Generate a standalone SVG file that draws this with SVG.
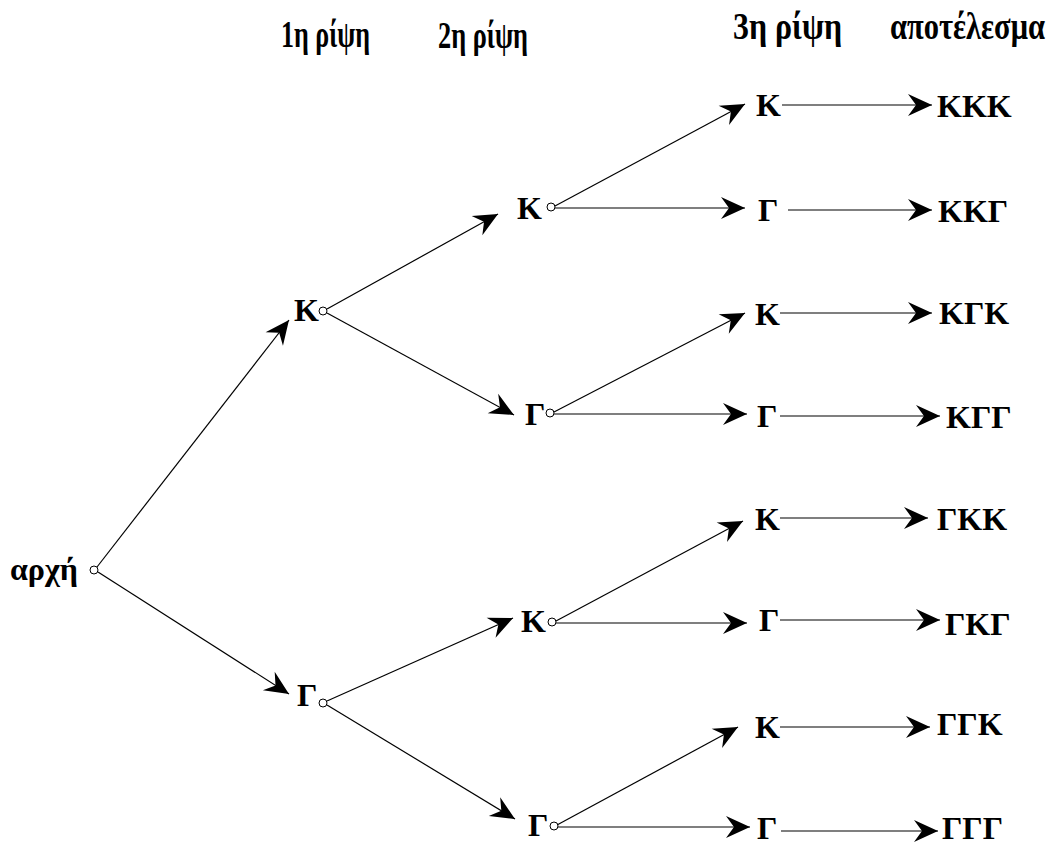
<svg xmlns="http://www.w3.org/2000/svg" width="1050" height="842" viewBox="0 0 1050 842">
<style>
text{font-family:"Liberation Serif","Times New Roman","DejaVu Serif",serif;font-weight:bold;fill:#000}
.n{font-size:32px}
.h{font-size:37px}
.c{stroke:#000;stroke-width:1.2;fill:none;marker-end:url(#ah)}
.d{fill:#fff;stroke:#000;stroke-width:1}
</style>
<defs>
<marker id="ah" markerUnits="userSpaceOnUse" markerWidth="26" markerHeight="26" viewBox="-25 -13 26 26" refX="0" refY="0" orient="auto">
<path d="M0,0 L-24,-11 L-16,0 L-24,11 Z" fill="#000"/>
</marker>
</defs>
<rect width="1050" height="842" fill="#fff"/>
<g id="headers">
<text class="h" x="281" y="47" textLength="89" lengthAdjust="spacingAndGlyphs">1η ρίψη</text>
<text class="h" x="438" y="48" textLength="90" lengthAdjust="spacingAndGlyphs">2η ρίψη</text>
<text class="h" x="733" y="39" textLength="109" lengthAdjust="spacingAndGlyphs">3η ρίψη</text>
<text class="h" x="890" y="39" textLength="155" lengthAdjust="spacingAndGlyphs">αποτέλεσμα</text>
</g>
<g id="connectors">
<line class="c" x1="97" y1="567" x2="289" y2="320"/>
<line class="c" x1="98" y1="572" x2="289" y2="694"/>
<line class="c" x1="327" y1="309" x2="498" y2="214"/>
<line class="c" x1="327" y1="313" x2="514" y2="415"/>
<line class="c" x1="327" y1="701" x2="513" y2="618"/>
<line class="c" x1="327" y1="705" x2="515" y2="819"/>
<line class="c" x1="555" y1="206" x2="745" y2="104"/>
<line class="c" x1="555" y1="208" x2="745" y2="208"/>
<line class="c" x1="554" y1="412" x2="745" y2="313"/>
<line class="c" x1="554" y1="414" x2="747" y2="414"/>
<line class="c" x1="556" y1="621" x2="743" y2="521"/>
<line class="c" x1="556" y1="623" x2="747" y2="623"/>
<line class="c" x1="557" y1="825" x2="738" y2="727"/>
<line class="c" x1="558" y1="827" x2="750" y2="827"/>
<line class="c" x1="782" y1="105" x2="932" y2="105"/>
<line class="c" x1="788" y1="210" x2="932" y2="210"/>
<line class="c" x1="780" y1="313" x2="932" y2="313"/>
<line class="c" x1="780" y1="416" x2="940" y2="416"/>
<line class="c" x1="780" y1="518" x2="928" y2="518"/>
<line class="c" x1="780" y1="620" x2="940" y2="620"/>
<line class="c" x1="780" y1="727" x2="930" y2="727"/>
<line class="c" x1="781" y1="831" x2="938" y2="831"/>
</g>
<g id="root"><text class="n" x="10" y="580">αρχή</text><circle class="d" cx="94" cy="570" r="4"/></g>
<g id="l1-K"><text class="n" x="294" y="321">Κ</text><circle class="d" cx="323" cy="311" r="4"/></g>
<g id="l1-G"><text class="n" x="297" y="706">Γ</text><circle class="d" cx="323" cy="703" r="4"/></g>
<g id="l2-KK"><text class="n" x="517" y="219">Κ</text><circle class="d" cx="551" cy="207" r="4"/></g>
<g id="l2-KG"><text class="n" x="525" y="425">Γ</text><circle class="d" cx="550" cy="413" r="4"/></g>
<g id="l2-GK"><text class="n" x="521" y="632">Κ</text><circle class="d" cx="552" cy="622" r="4"/></g>
<g id="l2-GG"><text class="n" x="528" y="836">Γ</text><circle class="d" cx="554" cy="826" r="4"/></g>
<g id="l3-1"><text class="n" x="756" y="116">Κ</text></g>
<g id="l3-2"><text class="n" x="758" y="221">Γ</text></g>
<g id="l3-3"><text class="n" x="755" y="325">Κ</text></g>
<g id="l3-4"><text class="n" x="757" y="427">Γ</text></g>
<g id="l3-5"><text class="n" x="755" y="530">Κ</text></g>
<g id="l3-6"><text class="n" x="759" y="631">Γ</text></g>
<g id="l3-7"><text class="n" x="755" y="738">Κ</text></g>
<g id="l3-8"><text class="n" x="757" y="839">Γ</text></g>
<g id="r1"><text class="n" x="937" y="117">ΚΚΚ</text></g>
<g id="r2"><text class="n" x="938" y="222">ΚΚΓ</text></g>
<g id="r3"><text class="n" x="939" y="324">ΚΓΚ</text></g>
<g id="r4"><text class="n" x="946" y="428">ΚΓΓ</text></g>
<g id="r5"><text class="n" x="937" y="530">ΓΚΚ</text></g>
<g id="r6"><text class="n" x="945" y="635">ΓΚΓ</text></g>
<g id="r7"><text class="n" x="937" y="735">ΓΓΚ</text></g>
<g id="r8"><text class="n" x="942" y="839">ΓΓΓ</text></g>
</svg>
